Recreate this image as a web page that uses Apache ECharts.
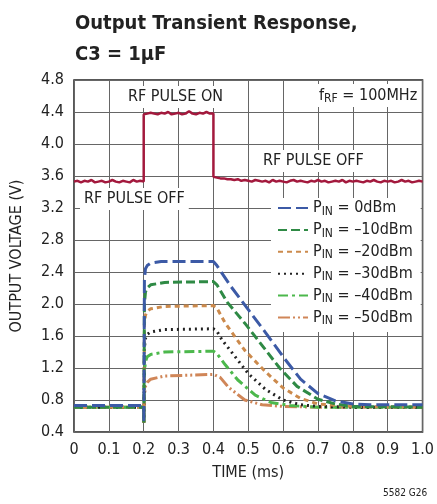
<!DOCTYPE html>
<html>
<head>
<meta charset="utf-8">
<script src="https://cdn.jsdelivr.net/npm/echarts@6/dist/echarts.min.js"></script>
<style>
  html, body { margin: 0; padding: 0; background: #fff; }
  #chart { width: 437px; height: 504px; }
</style>
</head>
<body>
<div id="chart"></div>
<script>
const FONT = "'Liberation Sans Narrow', 'DejaVu Sans Condensed', 'Liberation Sans', sans-serif"

// RF detector output, sampled every 0.01ms
const redPre = [3.53, 3.54, 3.52, 3.54, 3.53, 3.55, 3.52, 3.53, 3.54, 3.52, 3.53, 3.55, 3.53, 3.52, 3.54, 3.53, 3.52, 3.55, 3.53, 3.54, 3.53]
const redOn = [4.37, 4.38, 4.39, 4.38, 4.37, 4.39, 4.38, 4.40, 4.37, 4.38, 4.39, 4.37, 4.38, 4.41, 4.38, 4.37, 4.39, 4.38, 4.40, 4.38, 4.38]
const redPost = [3.59, 3.58, 3.57, 3.57, 3.56, 3.56, 3.55, 3.56, 3.54, 3.55, 3.54,
  3.53, 3.55, 3.54, 3.53, 3.54, 3.52, 3.55, 3.53, 3.54, 3.53,
  3.52, 3.54, 3.55, 3.53, 3.54, 3.53, 3.52, 3.54, 3.53, 3.55,
  3.53, 3.54, 3.52, 3.53, 3.54, 3.53, 3.55, 3.52, 3.54, 3.53,
  3.54, 3.53, 3.52, 3.54, 3.53, 3.55, 3.53, 3.52, 3.54, 3.53,
  3.54, 3.52, 3.53, 3.55, 3.53, 3.54, 3.52, 3.53, 3.54, 3.53]

// [time ms, volts]
const pin0 = [[0, 0.73], [0.2, 0.73], [0.2005, 0.52], [0.202, 2.3], [0.205, 2.44], [0.21, 2.48], [0.22, 2.51], [0.25, 2.53], [0.4, 2.53], [0.41, 2.48], [0.45, 2.22], [0.5, 1.93], [0.55, 1.64], [0.6, 1.34], [0.65, 1.06], [0.7, 0.88], [0.75, 0.79], [0.8, 0.75], [0.85, 0.74], [1.0, 0.74]]
const pin10 = [[0, 0.71], [0.2, 0.71], [0.2005, 0.52], [0.202, 2.0], [0.205, 2.15], [0.21, 2.2], [0.22, 2.24], [0.26, 2.27], [0.4, 2.28], [0.41, 2.24], [0.44, 2.02], [0.49, 1.76], [0.54, 1.48], [0.59, 1.2], [0.64, 0.97], [0.7, 0.81], [0.75, 0.75], [0.8, 0.72], [1.0, 0.71]]
const pin20 = [[0, 0.71], [0.2, 0.71], [0.2005, 0.52], [0.202, 1.75], [0.205, 1.86], [0.21, 1.91], [0.22, 1.94], [0.26, 1.97], [0.4, 1.98], [0.41, 1.95], [0.434, 1.76], [0.49, 1.42], [0.55, 1.15], [0.6, 0.95], [0.65, 0.82], [0.7, 0.75], [0.8, 0.72], [1.0, 0.71]]
const pin30 = [[0, 0.71], [0.2, 0.71], [0.2005, 0.52], [0.202, 1.45], [0.205, 1.57], [0.21, 1.62], [0.22, 1.65], [0.26, 1.68], [0.4, 1.69], [0.41, 1.66], [0.425, 1.55], [0.45, 1.41], [0.5, 1.13], [0.55, 0.93], [0.6, 0.8], [0.65, 0.74], [0.7, 0.72], [0.8, 0.71], [1.0, 0.71]]
const pin40 = [[0, 0.71], [0.2, 0.71], [0.2005, 0.52], [0.202, 1.15], [0.205, 1.28], [0.21, 1.34], [0.22, 1.37], [0.26, 1.4], [0.4, 1.41], [0.41, 1.38], [0.434, 1.24], [0.47, 1.05], [0.52, 0.86], [0.565, 0.77], [0.62, 0.73], [0.7, 0.71], [1.0, 0.71]]
const pin50 = [[0, 0.71], [0.2, 0.71], [0.2005, 0.52], [0.202, 0.85], [0.205, 0.97], [0.21, 1.02], [0.22, 1.06], [0.26, 1.1], [0.4, 1.12], [0.42, 1.08], [0.443, 0.96], [0.49, 0.8], [0.54, 0.74], [0.6, 0.72], [0.7, 0.71], [1.0, 0.71]]

const legendNames = ['0dBm', '–10dBm', '–20dBm', '–30dBm', '–40dBm', '–50dBm']

const redTrace = [
  ...redPre.map((v, i) => [i * 0.01, v]),
  ...redOn.map((v, i) => [0.2 + i * 0.01, v]),
  ...redPost.map((v, i) => [0.4 + i * 0.01, v])
]

const curves = [
  { data: pin0, color: '#3c5aa6', dash: [13, 5] },
  { data: pin10, color: '#2f8a45', dash: [9, 4] },
  { data: pin20, color: '#cc8a4c', dash: [5, 4] },
  { data: pin30, color: '#222222', dash: [2, 4] },
  { data: pin40, color: '#4cb84c', dash: [10, 4, 3, 4] },
  { data: pin50, color: '#d08658', dash: [12, 3, 2, 3, 2, 3] }
]

const chart = echarts.init(document.getElementById('chart'))

const labelBox = (text, x, y) => ({
  type: 'text',
  left: x,
  top: y,
  z: 50,
  style: {
    text,
    font: '16px ' + FONT,
    fill: '#222',
    backgroundColor: '#fff',
    padding: [3, 4, 3, 4]
  }
})

chart.setOption({
  animation: false,
  backgroundColor: '#fff',
  title: {
    text: 'Output Transient Response,\nC3 = 1µF',
    left: 70,
    top: 3,
    textStyle: { fontFamily: FONT, fontSize: 20, fontWeight: 'bold', color: '#222', lineHeight: 31 }
  },
  grid: { left: 74, right: 11, top: 80, bottom: 72, show: true, borderColor: '#222', borderWidth: 1.5 },
  xAxis: {
    type: 'value',
    min: 0, max: 1, interval: 0.1,
    name: 'TIME (ms)',
    nameLocation: 'middle',
    nameGap: 33,
    nameTextStyle: { fontFamily: FONT, fontSize: 16, color: '#222' },
    axisLine: { show: false },
    axisTick: { show: false },
    axisLabel: {
      margin: 10, fontFamily: FONT, fontSize: 16, color: '#222',
      formatter: v => { const r = Math.round(v * 10) / 10; return r === 0 ? '0' : r.toFixed(1) }
    },
    splitLine: { show: true, lineStyle: { color: '#666', width: 1 } }
  },
  yAxis: {
    type: 'value',
    min: 0.4, max: 4.8, interval: 0.4,
    name: 'OUTPUT VOLTAGE (V)',
    nameLocation: 'middle',
    nameGap: 49,
    nameTextStyle: { fontFamily: FONT, fontSize: 16, color: '#222' },
    axisLine: { show: false },
    axisTick: { show: false },
    axisLabel: {
      margin: 10, fontFamily: FONT, fontSize: 16, color: '#222',
      formatter: v => (Math.round(v * 10) / 10).toFixed(1)
    },
    splitLine: { show: true, lineStyle: { color: '#666', width: 1 } }
  },
  legend: {
    left: 271,
    top: 198,
    orient: 'vertical',
    backgroundColor: '#fff',
    padding: [2, 8, 5, 6],
    itemGap: 4.4,
    itemWidth: 30,
    itemHeight: 14,
    z: 40,
    data: legendNames,
    itemStyle: { opacity: 0 },
    formatter: name => '{p|P}{s|IN}{p| = ' + name + '}',
    textStyle: {
      fontFamily: FONT, fontSize: 16, color: '#222',
      rich: {
        p: { fontFamily: FONT, fontSize: 16, color: '#222' },
        s: { fontFamily: FONT, fontSize: 12, color: '#222', padding: [7, 0, 0, 0] }
      }
    }
  },
  graphic: [
    labelBox('RF PULSE ON', 124, 86),
    labelBox('RF PULSE OFF', 259, 150),
    labelBox('RF PULSE OFF', 80, 188),
    {
      type: 'text', left: 316, top: 84, z: 50,
      style: {
        text: '{p|f}{s|RF}{p| = 100MHz}',
        backgroundColor: '#fff', padding: [2, 3, 2, 3],
        rich: {
          p: { font: '16px ' + FONT, fill: '#222' },
          s: { font: '12px ' + FONT, fill: '#222', padding: [7, 0, 0, 0] }
        }
      }
    },
    {
      type: 'text', left: 383, top: 488,
      style: { text: '5582 G26', font: '10px ' + FONT, fill: '#222' }
    }
  ],
  series: [
    {
      name: 'red',
      type: 'line',
      data: redTrace,
      symbol: 'none',
      z: 5,
      lineStyle: { color: '#a3193d', width: 2.5 }
    },
    ...curves.map((c, i) => ({
      name: legendNames[i],
      type: 'line',
      data: c.data,
      symbol: 'none',
      z: 10 - i,
      itemStyle: { color: c.color },
      lineStyle: { color: c.color, width: 3, type: c.dash, cap: 'butt' }
    }))
  ]
})
</script>
</body>
</html>
